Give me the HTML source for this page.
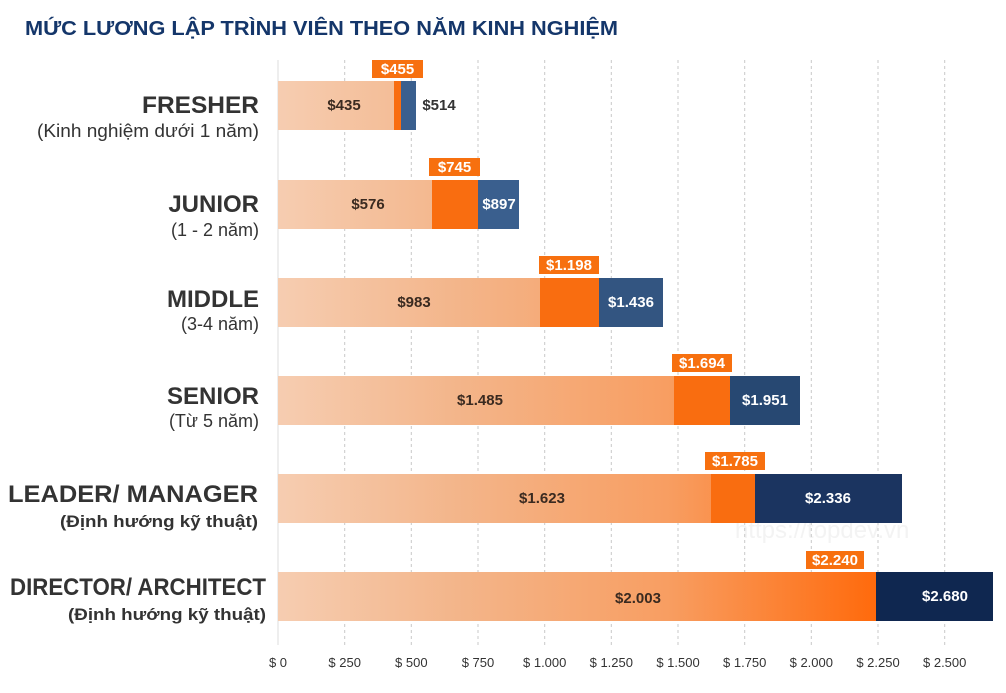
<!DOCTYPE html>
<html><head><meta charset="utf-8"><style>
html,body{margin:0;padding:0;background:#fff;}
svg{display:block;font-family:"Liberation Sans","Noto Sans CJK SC",sans-serif;}
</style></head><body>
<svg width="1006" height="693" viewBox="0 0 1006 693" xmlns="http://www.w3.org/2000/svg">
<defs>
<linearGradient id="g" gradientUnits="userSpaceOnUse" x1="278" y1="0" x2="876" y2="0">
<stop offset="0" stop-color="#f6cdb1"/>
<stop offset="0.3" stop-color="#f3b58a"/>
<stop offset="0.65" stop-color="#f89e62"/>
<stop offset="1" stop-color="#ff6a0c"/>
</linearGradient>
</defs>
<text x="25" y="35" font-size="20" font-weight="bold" fill="#14366a" textLength="593" lengthAdjust="spacingAndGlyphs">MỨC LƯƠNG LẬP TRÌNH VIÊN THEO NĂM KINH NGHIỆM</text>
<text x="735" y="538" font-size="24" fill="#f3f3f3">https://topdev.vn</text>
<g stroke="#c8c8c8" stroke-width="1" stroke-dasharray="3,3">
<line x1="278" y1="60" x2="278" y2="645" stroke-dasharray="none" stroke="#ddd"/>
<line x1="344.7" y1="60" x2="344.7" y2="645"/>
<line x1="411.3" y1="60" x2="411.3" y2="645"/>
<line x1="478" y1="60" x2="478" y2="645"/>
<line x1="544.7" y1="60" x2="544.7" y2="645"/>
<line x1="611.3" y1="60" x2="611.3" y2="645"/>
<line x1="678" y1="60" x2="678" y2="645"/>
<line x1="744.7" y1="60" x2="744.7" y2="645"/>
<line x1="811.3" y1="60" x2="811.3" y2="645"/>
<line x1="878" y1="60" x2="878" y2="645"/>
<line x1="944.7" y1="60" x2="944.7" y2="645"/>
</g>
<g font-size="13" fill="#333" text-anchor="middle">
<text x="278" y="667">$ 0</text><text x="344.7" y="667">$ 250</text><text x="411.3" y="667">$ 500</text><text x="478" y="667">$ 750</text><text x="544.7" y="667">$ 1.000</text><text x="611.3" y="667">$ 1.250</text><text x="678" y="667">$ 1.500</text><text x="744.7" y="667">$ 1.750</text><text x="811.3" y="667">$ 2.000</text><text x="878" y="667">$ 2.250</text><text x="944.7" y="667">$ 2.500</text>
</g>
<g>
<rect x="278" y="81" width="116" height="49" fill="url(#g)"/>
<rect x="394" y="81" width="7" height="49" fill="#f96d10"/>
<rect x="401" y="81" width="15" height="49" fill="#3a5f8e"/>
<rect x="278" y="180" width="154" height="49" fill="url(#g)"/>
<rect x="432" y="180" width="46" height="49" fill="#f96d10"/>
<rect x="478" y="180" width="41" height="49" fill="#3a5f8e"/>
<rect x="278" y="278" width="262" height="49" fill="url(#g)"/>
<rect x="540" y="278" width="59" height="49" fill="#f96d10"/>
<rect x="599" y="278" width="64" height="49" fill="#335581"/>
<rect x="278" y="376" width="396" height="49" fill="url(#g)"/>
<rect x="674" y="376" width="56" height="49" fill="#f96d10"/>
<rect x="730" y="376" width="70" height="49" fill="#274872"/>
<rect x="278" y="474" width="433" height="49" fill="url(#g)"/>
<rect x="711" y="474" width="44" height="49" fill="#f96d10"/>
<rect x="755" y="474" width="147" height="49" fill="#1b3460"/>
<rect x="278" y="572" width="598" height="49" fill="url(#g)"/>
<rect x="876" y="572" width="117" height="49" fill="#0f2750"/>
</g>
<g font-size="15" font-weight="bold" text-anchor="middle">
<text x="344" y="110" fill="#3a2a20">$435</text>
<text x="439" y="110" fill="#333">$514</text>
<text x="368" y="209" fill="#3a2a20">$576</text>
<text x="499" y="209" fill="#fff">$897</text>
<text x="414" y="307" fill="#3a2a20">$983</text>
<text x="631" y="307" fill="#fff">$1.436</text>
<text x="480" y="405" fill="#3a2a20">$1.485</text>
<text x="765" y="405" fill="#fff">$1.951</text>
<text x="542" y="503" fill="#3a2a20">$1.623</text>
<text x="828" y="503" fill="#fff">$2.336</text>
<text x="638" y="603" fill="#3a2a20">$2.003</text>
<text x="945" y="601" fill="#fff">$2.680</text>
</g>
<g fill="#f7700f">
<rect x="372" y="60" width="51" height="18"/>
<rect x="429" y="158" width="51" height="18"/>
<rect x="539" y="256" width="60" height="18"/>
<rect x="672" y="354" width="60" height="18"/>
<rect x="705" y="452" width="60" height="18"/>
<rect x="806" y="551" width="58" height="18"/>
</g>
<g font-size="15" font-weight="bold" fill="#fff" text-anchor="middle">
<text x="397.5" y="74">$455</text>
<text x="454.5" y="172">$745</text>
<text x="569" y="270">$1.198</text>
<text x="702" y="368">$1.694</text>
<text x="735" y="466">$1.785</text>
<text x="835" y="565">$2.240</text>
</g>
<g fill="#333" text-anchor="end">
<text x="259" y="113" font-size="24" font-weight="bold" textLength="117" lengthAdjust="spacingAndGlyphs">FRESHER</text>
<text x="259" y="137" font-size="18" textLength="222" lengthAdjust="spacingAndGlyphs">(Kinh nghiệm dưới 1 năm)</text>
<text x="259" y="212" font-size="24" font-weight="bold">JUNIOR</text>
<text x="259" y="236" font-size="18">(1 - 2 năm)</text>
<text x="259" y="307" font-size="24" font-weight="bold">MIDDLE</text>
<text x="259" y="330" font-size="18">(3-4 năm)</text>
<text x="259" y="404" font-size="24" font-weight="bold">SENIOR</text>
<text x="259" y="427" font-size="18">(Từ 5 năm)</text>
<text x="258" y="502" font-size="24" font-weight="bold" textLength="250" lengthAdjust="spacingAndGlyphs">LEADER/ MANAGER</text>
<text x="258" y="527" font-size="17" font-weight="bold" textLength="198" lengthAdjust="spacingAndGlyphs">(Định hướng kỹ thuật)</text>
<text x="266" y="595" font-size="24" font-weight="bold" textLength="256" lengthAdjust="spacingAndGlyphs">DIRECTOR/ ARCHITECT</text>
<text x="266" y="620" font-size="17" font-weight="bold" textLength="198" lengthAdjust="spacingAndGlyphs">(Định hướng kỹ thuật)</text>
</g>
</svg>
</body></html>
